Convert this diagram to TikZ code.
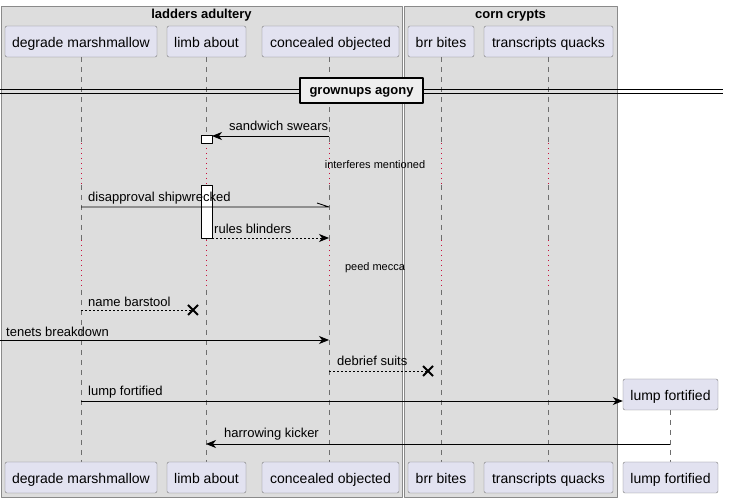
\documentclass[tikz,border=0pt]{standalone}
\usepackage{fontspec}
\setmainfont{Liberation Sans}
\usetikzlibrary{arrows.meta}
\definecolor{grpfill}{HTML}{DDDDDD}
\definecolor{grpline}{HTML}{8A8A8A}
\definecolor{partfill}{HTML}{E2E2F0}
\definecolor{partline}{HTML}{7A7A7A}
\definecolor{lifegray}{HTML}{6E6E6E}
\definecolor{delayred}{HTML}{C8103C}
\definecolor{divfill}{HTML}{EEEEEE}
\tikzset{
	part/.style={draw=partline,fill=partfill,rounded corners=2pt,minimum height=31pt,inner sep=0pt,text height=12pt,text depth=0pt,font=\fontsize{14}{16}\selectfont},
	grptitle/.style={inner sep=0pt,font=\fontsize{13}{15}\selectfont\bfseries},
	msg/.style={anchor=west,inner sep=0pt,font=\fontsize{13}{15}\selectfont},
	delaytext/.style={inner sep=0pt,font=\fontsize{11}{13}\selectfont},
	call/.style={line width=0.9pt,-{Stealth[length=10pt,width=8pt,inset=3pt]}},
	reply/.style={call,dash pattern=on 2pt off 2pt},
	lifeln/.style={draw=lifegray,line width=0.7pt,dash pattern=on 5pt off 5pt},
	delayln/.style={draw=delayred,line width=0.7pt,dash pattern=on 1pt off 4pt},
	actbox/.style={draw,fill=white,line width=0.8pt,minimum width=11pt,inner sep=0pt}
}
\newcommand{\killmark}[1]{\draw[line width=1.8pt] ([shift={(-5,-5)}]#1) -- ([shift={(5,5)}]#1) ([shift={(-5,5)}]#1) -- ([shift={(5,-5)}]#1);}

\begin{document}
\begin{tikzpicture}[line cap=butt,line join=round,x=1pt,y=-1pt]
	\useasboundingbox (0,0) rectangle (729,502);
	% boxes of the two groups
	\draw [draw=grpline,fill=grpfill,line width=0.9pt] (1,6) rectangle (402,497);
	\draw [draw=grpline,fill=grpfill,line width=0.9pt] (404,6) rectangle (617,497);
	\node[grptitle] (gLadders) at (201.5,15.5) {ladders adultery};
	\node[grptitle] (gCorn) at (510.5,15.5) {corn crypts};
	% lifelines, with the two delays
	\foreach \x in {81,206,329,441,548} {
		\draw[lifeln] (\x,57) -- (\x,143);
		\draw[delayln] (\x,143) -- (\x,185);
		\draw[lifeln] (\x,185) -- (\x,240);
		\draw[delayln] (\x,240) -- (\x,290);
		\draw[lifeln] (\x,290) -- (\x,462);
	}
	\draw[lifeln] (670,410) -- (670,462);
	% divider
	\draw [line width=0.9pt] (0,89.5) -- (723,89.5);
	\draw [line width=0.9pt] (0,93) -- (723,93);
	\node[draw,line width=1.6pt,fill=divfill,minimum width=123pt,minimum height=25pt,inner sep=0pt,text height=9pt,text depth=0pt,font=\fontsize{13}{15}\selectfont\bfseries] (divAgony) at (361.5,90.5) {grownups agony};
	% participants
	\node[part,minimum width=152pt] (dmTop) at (81,41.5) {degrade marshmallow};
	\node[part,minimum width=79pt] (laTop) at (206.5,41.5) {limb about};
	\node[part,minimum width=137pt] (coTop) at (330.5,41.5) {concealed objected};
	\node[part,minimum width=66pt] (bbTop) at (441,41.5) {brr bites};
	\node[part,minimum width=129pt] (tqTop) at (548.5,41.5) {transcripts quacks};
	\node[part,minimum width=95pt] (lfTop) at (670.5,394.5) {lump fortified};
	\node[part,minimum width=152pt] (dmBot) at (81,477.5) {degrade marshmallow};
	\node[part,minimum width=79pt] (laBot) at (206.5,477.5) {limb about};
	\node[part,minimum width=137pt] (coBot) at (330.5,477.5) {concealed objected};
	\node[part,minimum width=66pt] (bbBot) at (441,477.5) {brr bites};
	\node[part,minimum width=129pt] (tqBot) at (548.5,477.5) {transcripts quacks};
	\node[part,minimum width=95pt] (lfBot) at (670.5,477.5) {lump fortified};
	% activations on limb about
	\node[actbox,minimum height=8pt] (act1) at (206.5,139) {};
	\node[actbox,minimum height=53pt] (act2) at (206.5,211.5) {};
	% message ends
	\coordinate (m1a) at (329,136); \coordinate (m1b) at (212,136);
	\coordinate (m2a) at (81,207); \coordinate (m2b) at (329,207);
	\coordinate (m3a) at (212,238); \coordinate (m3b) at (329,238);
	\coordinate (m4a) at (81,310); \coordinate (m4b) at (193,310);
	\coordinate (m5a) at (0,340); \coordinate (m5b) at (329,340);
	\coordinate (m6a) at (329,371); \coordinate (m6b) at (428,371);
	\coordinate (m7a) at (81,401);
	\coordinate (m8a) at (670,444); \coordinate (m8b) at (206,444);
	% messages
	\draw[call] (m1a) -- (m1b);
	\node[msg] (t1) at (229,126) {sandwich swears};
	\node[delaytext] (d1) at (375,165) {interferes mentioned};
	\draw[line width=0.9pt] (m2a) -- (m2b) -- ++(-12,-4);
	\node[msg] (t2) at (88,198) {disapproval shipwrecked};
	\draw[reply] (m3a) -- (m3b);
	\node[msg] (t3) at (214,229) {rules blinders};
	\node[delaytext] (d2) at (375,268) {peed mecca};
	\draw[line width=0.9pt,dash pattern=on 2pt off 2pt] (m4a) -- (m4b);
	\killmark{m4b}
	\node[msg] (t4) at (88,301.5) {name barstool};
	\draw[call] (m5a) -- (m5b);
	\node[msg] (t5) at (6,331.5) {tenets breakdown};
	\draw[line width=0.9pt,dash pattern=on 2pt off 2pt] (m6a) -- (m6b);
	\killmark{m6b}
	\node[msg] (t6) at (337,361) {debrief suits};
	\draw[call] (m7a) -- (m7a -| lfTop.west);
	\node[msg] (t7) at (88,392.5) {lump fortified};
	\draw[call] (m8a) -- (m8b);
	\node[msg] (t8) at (224,434.5) {harrowing kicker};
\end{tikzpicture}
\end{document}
